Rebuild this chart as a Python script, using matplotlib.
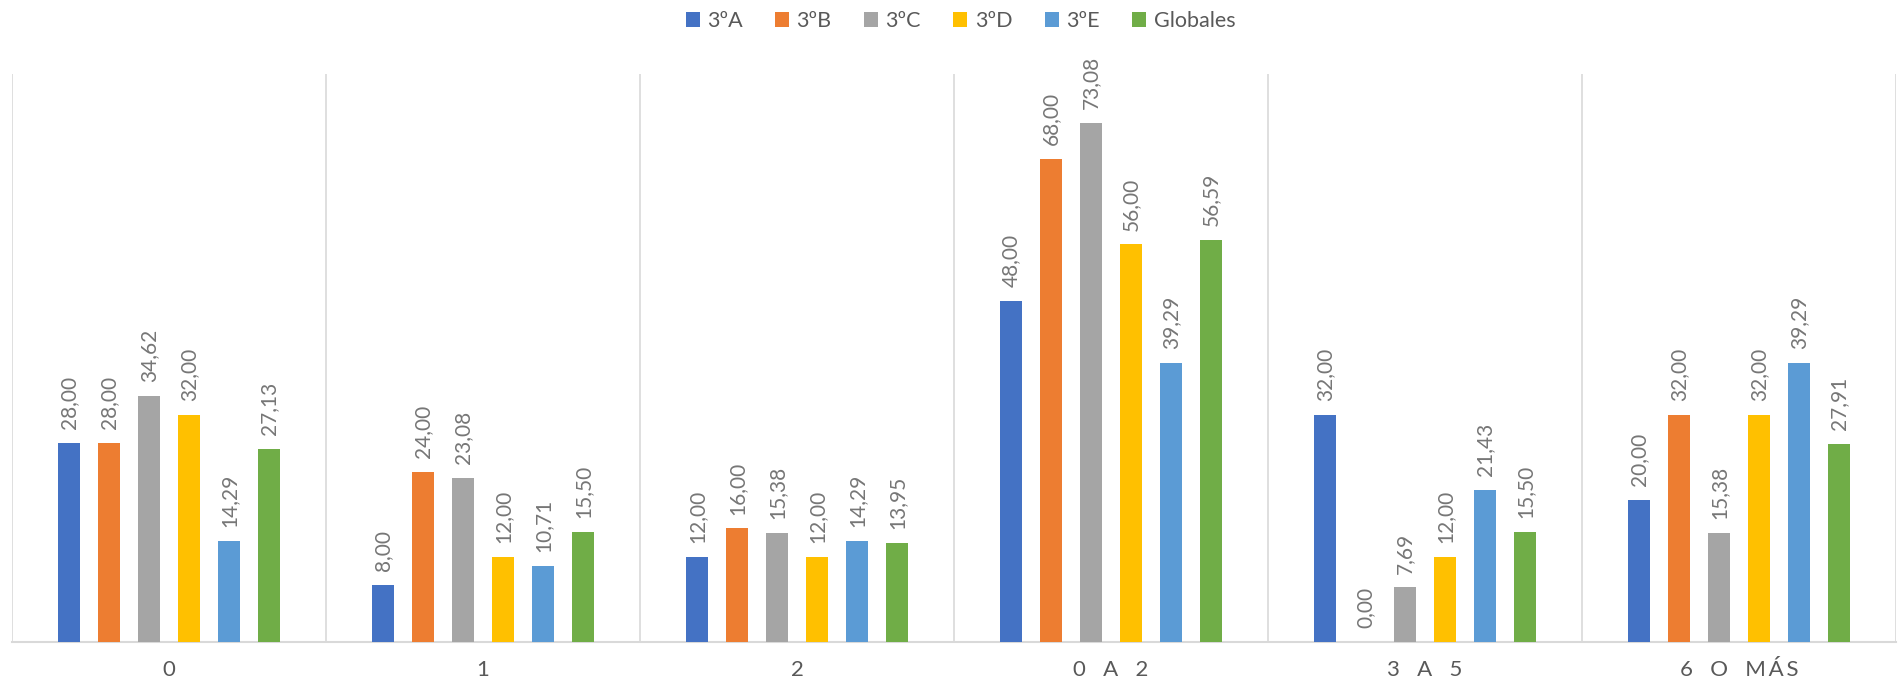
import matplotlib.pyplot as plt
import numpy as np

categories = ['0', '1', '2', '0   A   2', '3   A   5', '6   O   M\u2009Á\u2009S']
series_names = ['3ºA', '3ºB', '3ºC', '3ºD', '3ºE', 'Globales']
grupo_a = [28.00, 8.00, 12.00, 48.00, 32.00, 20.00]
grupo_b = [28.00, 24.00, 16.00, 68.00, 0.00, 32.00]
grupo_c = [34.62, 23.08, 15.38, 73.08, 7.69, 15.38]
grupo_d = [32.00, 12.00, 12.00, 56.00, 12.00, 32.00]
grupo_e = [14.29, 10.71, 14.29, 39.29, 21.43, 39.29]
globales = [27.13, 15.50, 13.95, 56.59, 15.50, 27.91]
colors = ['#4472C4', '#ED7D31', '#A5A5A5', '#FFC000', '#5B9BD5', '#70AD47']

plt.rcParams['font.family'] = ['Lato', 'DejaVu Sans']
text_color = '#595959'

fig = plt.figure(figsize=(18.98, 6.87), dpi=100)
ax = fig.add_axes([12 / 1898, 45 / 687, 1884 / 1898, 568 / 687])

x = np.arange(len(categories))
slot = 40 / 314
width = 22 / 314
all_series = [grupo_a, grupo_b, grupo_c, grupo_d, grupo_e, globales]

for i, (name, vals) in enumerate(zip(series_names, all_series)):
    pos = x + (i - 2.5) * slot
    bars = ax.bar(pos, vals, width, color=colors[i], label=name, zorder=3)
    # value labels, rotated, comma as decimal separator
    for b, v in zip(bars, vals):
        ax.annotate(f'{v:.2f}'.replace('.', ','),
                    (b.get_x() + b.get_width() / 2, v),
                    xytext=(0, 10), textcoords='offset points',
                    rotation=90, ha='center', va='bottom',
                    fontsize=15, color='#767676')

ax.set_xlim(-0.5, len(categories) - 0.5)
ax.set_ylim(0, 80)

# category separators
for b in np.arange(-0.5, len(categories)):
    ax.axvline(b, color='#d9d9d9', lw=1.2, zorder=1)

for s in ['top', 'right', 'left']:
    ax.spines[s].set_visible(False)
ax.spines['bottom'].set_color('#d9d9d9')
ax.spines['bottom'].set_linewidth(1.5)
ax.set_yticks([])
ax.set_xticks(x)
ax.set_xticklabels(categories, fontsize=16, color=text_color)
ax.tick_params(axis='x', length=0, pad=13)

fig.legend(loc='center', bbox_to_anchor=(0.506, 1 - 21 / 687), ncol=6,
           frameon=False, fontsize=15.5, labelcolor=text_color,
           handlelength=0.65, handleheight=0.65, handletextpad=0.35,
           columnspacing=1.5)

fig.savefig('out.png', dpi=100)
